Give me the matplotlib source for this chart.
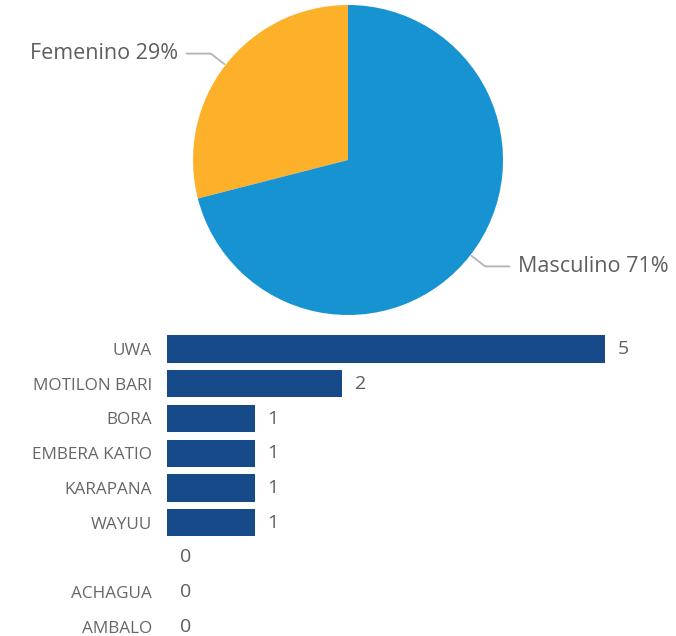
import numpy as np
import matplotlib
matplotlib.use('Agg')
import matplotlib.pyplot as plt

plt.rcParams['font.family'] = ['Open Sans', 'DejaVu Sans']

# pie data
genero = ['Femenino', 'Masculino']
genero_pct = [29, 71]
genero_colors = ['#FDB12B', '#1893D1']

# bar data
etnias = ['UWA', 'MOTILON BARI', 'BORA', 'EMBERA KATIO', 'KARAPANA', 'WAYUU', '', 'ACHAGUA', 'AMBALO']
conteo = [5, 2, 1, 1, 1, 1, 0, 0, 0]

W, H = 676, 636
fig = plt.figure(figsize=(W / 100, H / 100), dpi=100)

def px_axes(x0, y0, x1, y1):
    # pixel box (top-left origin) -> figure fraction axes
    return fig.add_axes([x0 / W, 1 - y1 / H, (x1 - x0) / W, (y1 - y0) / H])

# ---- pie ----
ax1 = px_axes(193, 5, 503, 315)
wedges, _ = ax1.pie(genero_pct, colors=genero_colors, startangle=90, counterclock=True,
                    radius=1, wedgeprops=dict(linewidth=0))
ax1.set_xlim(-1, 1)
ax1.set_ylim(-1, 1)
ax1.set_aspect('equal')
ax1.axis('off')

txt_col = '#605E5C'
for w, name, pct in zip(wedges, genero, genero_pct):
    ang = np.deg2rad((w.theta1 + w.theta2) / 2)
    x, y = np.cos(ang), np.sin(ang)
    ex, ey = 1.12 * x, 1.12 * y
    sgn = np.sign(x)
    hx = ex + sgn * 0.155
    ax1.plot([1.01 * x, ex, hx], [1.01 * y, ey, ey], color='#B3B3B3', lw=1.3, clip_on=False)
    ax1.text(hx + sgn * 0.055, ey, f'{name} {pct}%', ha='left' if sgn > 0 else 'right',
             va='center', fontsize=15.5, color=txt_col, clip_on=False)

# ---- bars ----
row = 34.75
top = 349 - row / 2
ax2 = px_axes(167, top, 605, top + row * len(etnias))
ypos = np.arange(len(etnias))
ax2.barh(ypos, conteo, height=0.78, color='#174A88')
ax2.set_xlim(0, 5)
ax2.set_ylim(len(etnias) - 0.5, -0.5)
ax2.set_yticks(ypos)
ax2.set_yticklabels(etnias, fontsize=12.3, color='#666666')
ax2.tick_params(axis='y', length=0, pad=10.8)
ax2.set_xticks([])
for s in ax2.spines.values():
    s.set_visible(False)
for yi, v in zip(ypos, conteo):
    ax2.annotate(str(v), (v, yi), xytext=(13, 0), textcoords='offset pixels',
                 va='center', ha='left', fontsize=14, color=txt_col, annotation_clip=False)

fig.savefig('out.png', dpi=100, facecolor='white')
